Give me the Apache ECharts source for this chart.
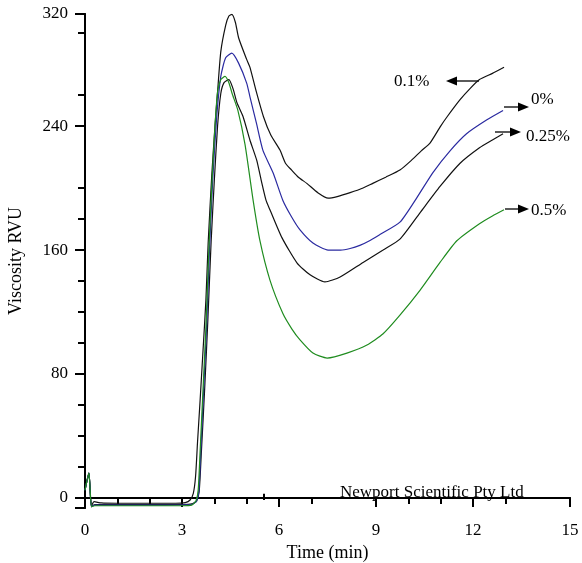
<!DOCTYPE html>
<html>
<head>
<meta charset="utf-8">
<script src="https://cdn.jsdelivr.net/npm/echarts@6/dist/echarts.min.js"></script>
<style>
html,body{margin:0;padding:0;background:#fff;}
#chart{width:582px;height:563px;}
</style>
</head>
<body>
<div id="chart"></div>
<script>
// ---- data (time in min, viscosity in RVU) ----
var seriesNames = ['0.1%', '0%', '0.25%', '0.5%'];

var s01 = [[0,5],[0.12,16],[0.2,-5],[0.28,-2.4],[0.5,-3.2],[1,-3.4],[2,-3.4],[2.8,-3.4],[3.1,-3],[3.25,-1.3],[3.35,3],[3.42,14],[3.48,36],[3.56,63],[3.65,95],[3.74,128],[3.81,165],[3.92,208],[4.02,240],[4.1,262],[4.2,288],[4.35,305],[4.45,311],[4.54,312],[4.65,307],[4.75,297],[5.0,283],[5.1,278],[5.3,262],[5.52,246],[5.75,234],[6.03,224.5],[6.2,216],[6.39,211.6],[6.6,207],[6.86,203],[7.2,197],[7.52,193.5],[7.8,194.5],[8.2,197],[8.6,200],[8.9,203],[9.3,207],[9.74,211.6],[10.1,218],[10.4,224],[10.67,229],[11.0,240],[11.2,246],[11.6,257],[11.9,264],[12.2,270],[12.6,274],[12.96,278]];

var s0 = [[0,5],[0.12,16],[0.2,-5.6],[0.3,-4.6],[1,-4.6],[2,-4.6],[3,-4.5],[3.3,-4.2],[3.45,-2],[3.52,4],[3.58,30],[3.67,70],[3.76,110],[3.85,160],[3.95,205],[4.07,245],[4.2,272],[4.35,284],[4.54,287],[4.75,280.6],[5.0,267.7],[5.1,259],[5.3,242],[5.5,224.5],[5.82,209.7],[6.12,192],[6.4,181],[6.65,173],[7.05,164.5],[7.52,160],[7.9,160],[8.2,161],[8.5,163],[8.8,166],[9.12,170],[9.74,178],[10.27,194],[10.76,210],[11.29,224],[11.8,235],[12.43,244],[12.93,250]];

var s025 = [[0,5],[0.12,16],[0.2,-5.6],[0.3,-4.2],[1,-4.3],[2,-4.3],[3,-4.2],[3.3,-3.8],[3.45,-2],[3.53,4],[3.6,30],[3.7,70],[3.8,115],[3.9,165],[4.0,205],[4.1,240],[4.2,261],[4.3,268],[4.45,270],[4.58,264],[4.7,255],[4.89,246],[5.1,231],[5.31,218],[5.45,205],[5.6,192],[5.72,186],[6.09,168],[6.56,151.6],[6.96,144],[7.42,139.4],[7.89,142.6],[8.6,152],[9.22,160],[9.74,167],[10.36,184],[10.98,201],[11.6,216],[12.2,226],[12.6,231],[12.93,235]];

var s05 = [[0,5],[0.12,16],[0.2,-5.6],[0.3,-5],[1,-5],[2,-5],[3,-5],[3.3,-4.6],[3.43,-2],[3.5,5],[3.56,30],[3.65,70],[3.74,110],[3.83,160],[3.93,205],[4.02,240],[4.1,262],[4.2,270],[4.33,272],[4.45,268],[4.55,261],[4.73,250],[4.95,228],[5.2,192],[5.41,166],[5.72,140.6],[6.12,119],[6.4,109],[6.65,102],[7.05,93.5],[7.49,90.3],[8.1,93.5],[8.72,98.7],[9.22,106],[9.74,118],[10.36,134],[10.98,152],[11.5,166],[12.2,177],[12.6,182],[12.96,186]];

var yMin = -6.45, yMax = 312.3;
var yLabelValues = [0, 80, 160, 240, yMax];
var yLabelTexts = ['0', '80', '160', '240', '320'];
var yMajorTicks = [yMin, 0, 80, 160, 240, yMax];
var yMinorTicks = [20, 40, 60, 100, 120, 140, 180, 200, 260, 300];
var xMajorTicks = [0, 3, 6, 9, 12, 15];
var xMinorTicks = [1, 2, 4, 5, 7, 10, 11, 13];
var markTime = 5.54;

var FONT = '"Liberation Serif", "Times New Roman", serif';
var chart = echarts.init(document.getElementById('chart'), null, {renderer: 'canvas'});

function lineS(name, data, color) {
  return {
    name: name, type: 'line', data: data, xAxisIndex: 0, yAxisIndex: 0,
    showSymbol: false, symbol: 'none', smooth: 0.2, animation: false,
    lineStyle: {color: color, width: 1.2}, z: 3
  };
}

var series = [
  lineS('0.1%', s01, '#111111'),
  lineS('0.25%', s025, '#111111'),
  lineS('0%', s0, '#2a2aa0'),
  lineS('0.5%', s05, '#1f8c1f')
];
series[0].markLine = {
  silent: true, symbol: ['none', 'none'], animation: false,
  label: {show: false},
  lineStyle: {color: '#000', width: 2, type: 'solid'},
  data: [[{coord: [markTime, -1.3]}, {coord: [markTime, 2.8]}]]
};

var axisLineStyle = {show: true, lineStyle: {color: '#000', width: 2}};

var option = {
  animation: false,
  backgroundColor: '#fff',
  grid: {left: 85, right: 12, top: 14, bottom: 55, containLabel: false, outerBoundsMode: 'none'},
  xAxis: [
    {type: 'value', min: 0, max: 15, position: 'bottom',
     axisLine: axisLineStyle,
     axisTick: {show: true, inside: false, length: 9, customValues: xMajorTicks, lineStyle: {color: '#000', width: 2}},
     axisLabel: {show: true, customValues: xMajorTicks, margin: 14, color: '#000', fontFamily: FONT, fontSize: 17},
     splitLine: {show: false},
     name: 'Time (min)', nameLocation: 'middle', nameGap: 33,
     nameTextStyle: {color: '#000', fontFamily: FONT, fontSize: 18}
    },
    {type: 'value', min: 0, max: 15, position: 'bottom',
     axisLine: {show: false},
     axisTick: {show: true, inside: false, length: 6, customValues: xMinorTicks, lineStyle: {color: '#000', width: 2}},
     axisLabel: {show: false}, splitLine: {show: false}
    },
    {type: 'value', min: 0, max: 15, position: 'top',
     axisLine: axisLineStyle, axisTick: {show: false}, axisLabel: {show: false}, splitLine: {show: false}
    }
  ],
  yAxis: [
    {type: 'value', min: yMin, max: yMax, position: 'left',
     axisLine: axisLineStyle,
     axisTick: {show: true, inside: false, length: 10, customValues: yMajorTicks, lineStyle: {color: '#000', width: 2}},
     axisLabel: {show: true, customValues: yLabelValues, margin: 17, color: '#000', fontFamily: FONT, fontSize: 17,
       formatter: function (v) { var i = yLabelValues.indexOf(v); return i >= 0 ? yLabelTexts[i] : ''; }},
     splitLine: {show: false},
     name: 'Viscosity RVU', nameLocation: 'middle', nameGap: 60, nameRotate: 90,
     nameTextStyle: {color: '#000', fontFamily: FONT, fontSize: 18}
    },
    {type: 'value', min: yMin, max: yMax, position: 'left',
     axisLine: {show: false},
     axisTick: {show: true, inside: false, length: 7, customValues: yMinorTicks, lineStyle: {color: '#000', width: 2}},
     axisLabel: {show: false}, splitLine: {show: false}
    },
    {type: 'value', min: yMin, max: yMax, position: 'right',
     axisLine: axisLineStyle, axisTick: {show: false}, axisLabel: {show: false}, splitLine: {show: false}
    }
  ],
  series: series,
  graphic: [
    {type: 'text', left: 340, top: 484, style: {text: 'Newport Scientific Pty Ltd', fill: '#000', font: '17px ' + FONT}},
    // labels
    {type: 'text', left: 394, top: 73, style: {text: '0.1%', fill: '#000', font: '17px ' + FONT}},
    {type: 'text', left: 531, top: 91, style: {text: '0%', fill: '#000', font: '17px ' + FONT}},
    {type: 'text', left: 526, top: 128, style: {text: '0.25%', fill: '#000', font: '17px ' + FONT}},
    {type: 'text', left: 531, top: 202, style: {text: '0.5%', fill: '#000', font: '17px ' + FONT}},
    // arrows
    {type: 'line', shape: {x1: 479, y1: 81, x2: 455, y2: 81}, style: {stroke: '#000', lineWidth: 1.3}},
    {type: 'polygon', shape: {points: [[446, 81], [457, 76.5], [457, 85.5]]}, style: {fill: '#000'}},
    {type: 'line', shape: {x1: 504, y1: 107, x2: 519, y2: 107}, style: {stroke: '#000', lineWidth: 1.3}},
    {type: 'polygon', shape: {points: [[529, 107], [518, 102.5], [518, 111.5]]}, style: {fill: '#000'}},
    {type: 'line', shape: {x1: 495, y1: 132, x2: 511, y2: 132}, style: {stroke: '#000', lineWidth: 1.3}},
    {type: 'polygon', shape: {points: [[521, 132], [510, 127.5], [510, 136.5]]}, style: {fill: '#000'}},
    {type: 'line', shape: {x1: 505, y1: 209, x2: 519, y2: 209}, style: {stroke: '#000', lineWidth: 1.3}},
    {type: 'polygon', shape: {points: [[529, 209], [518, 204.5], [518, 213.5]]}, style: {fill: '#000'}}
  ]
};
chart.setOption(option);
</script>
</body>
</html>
